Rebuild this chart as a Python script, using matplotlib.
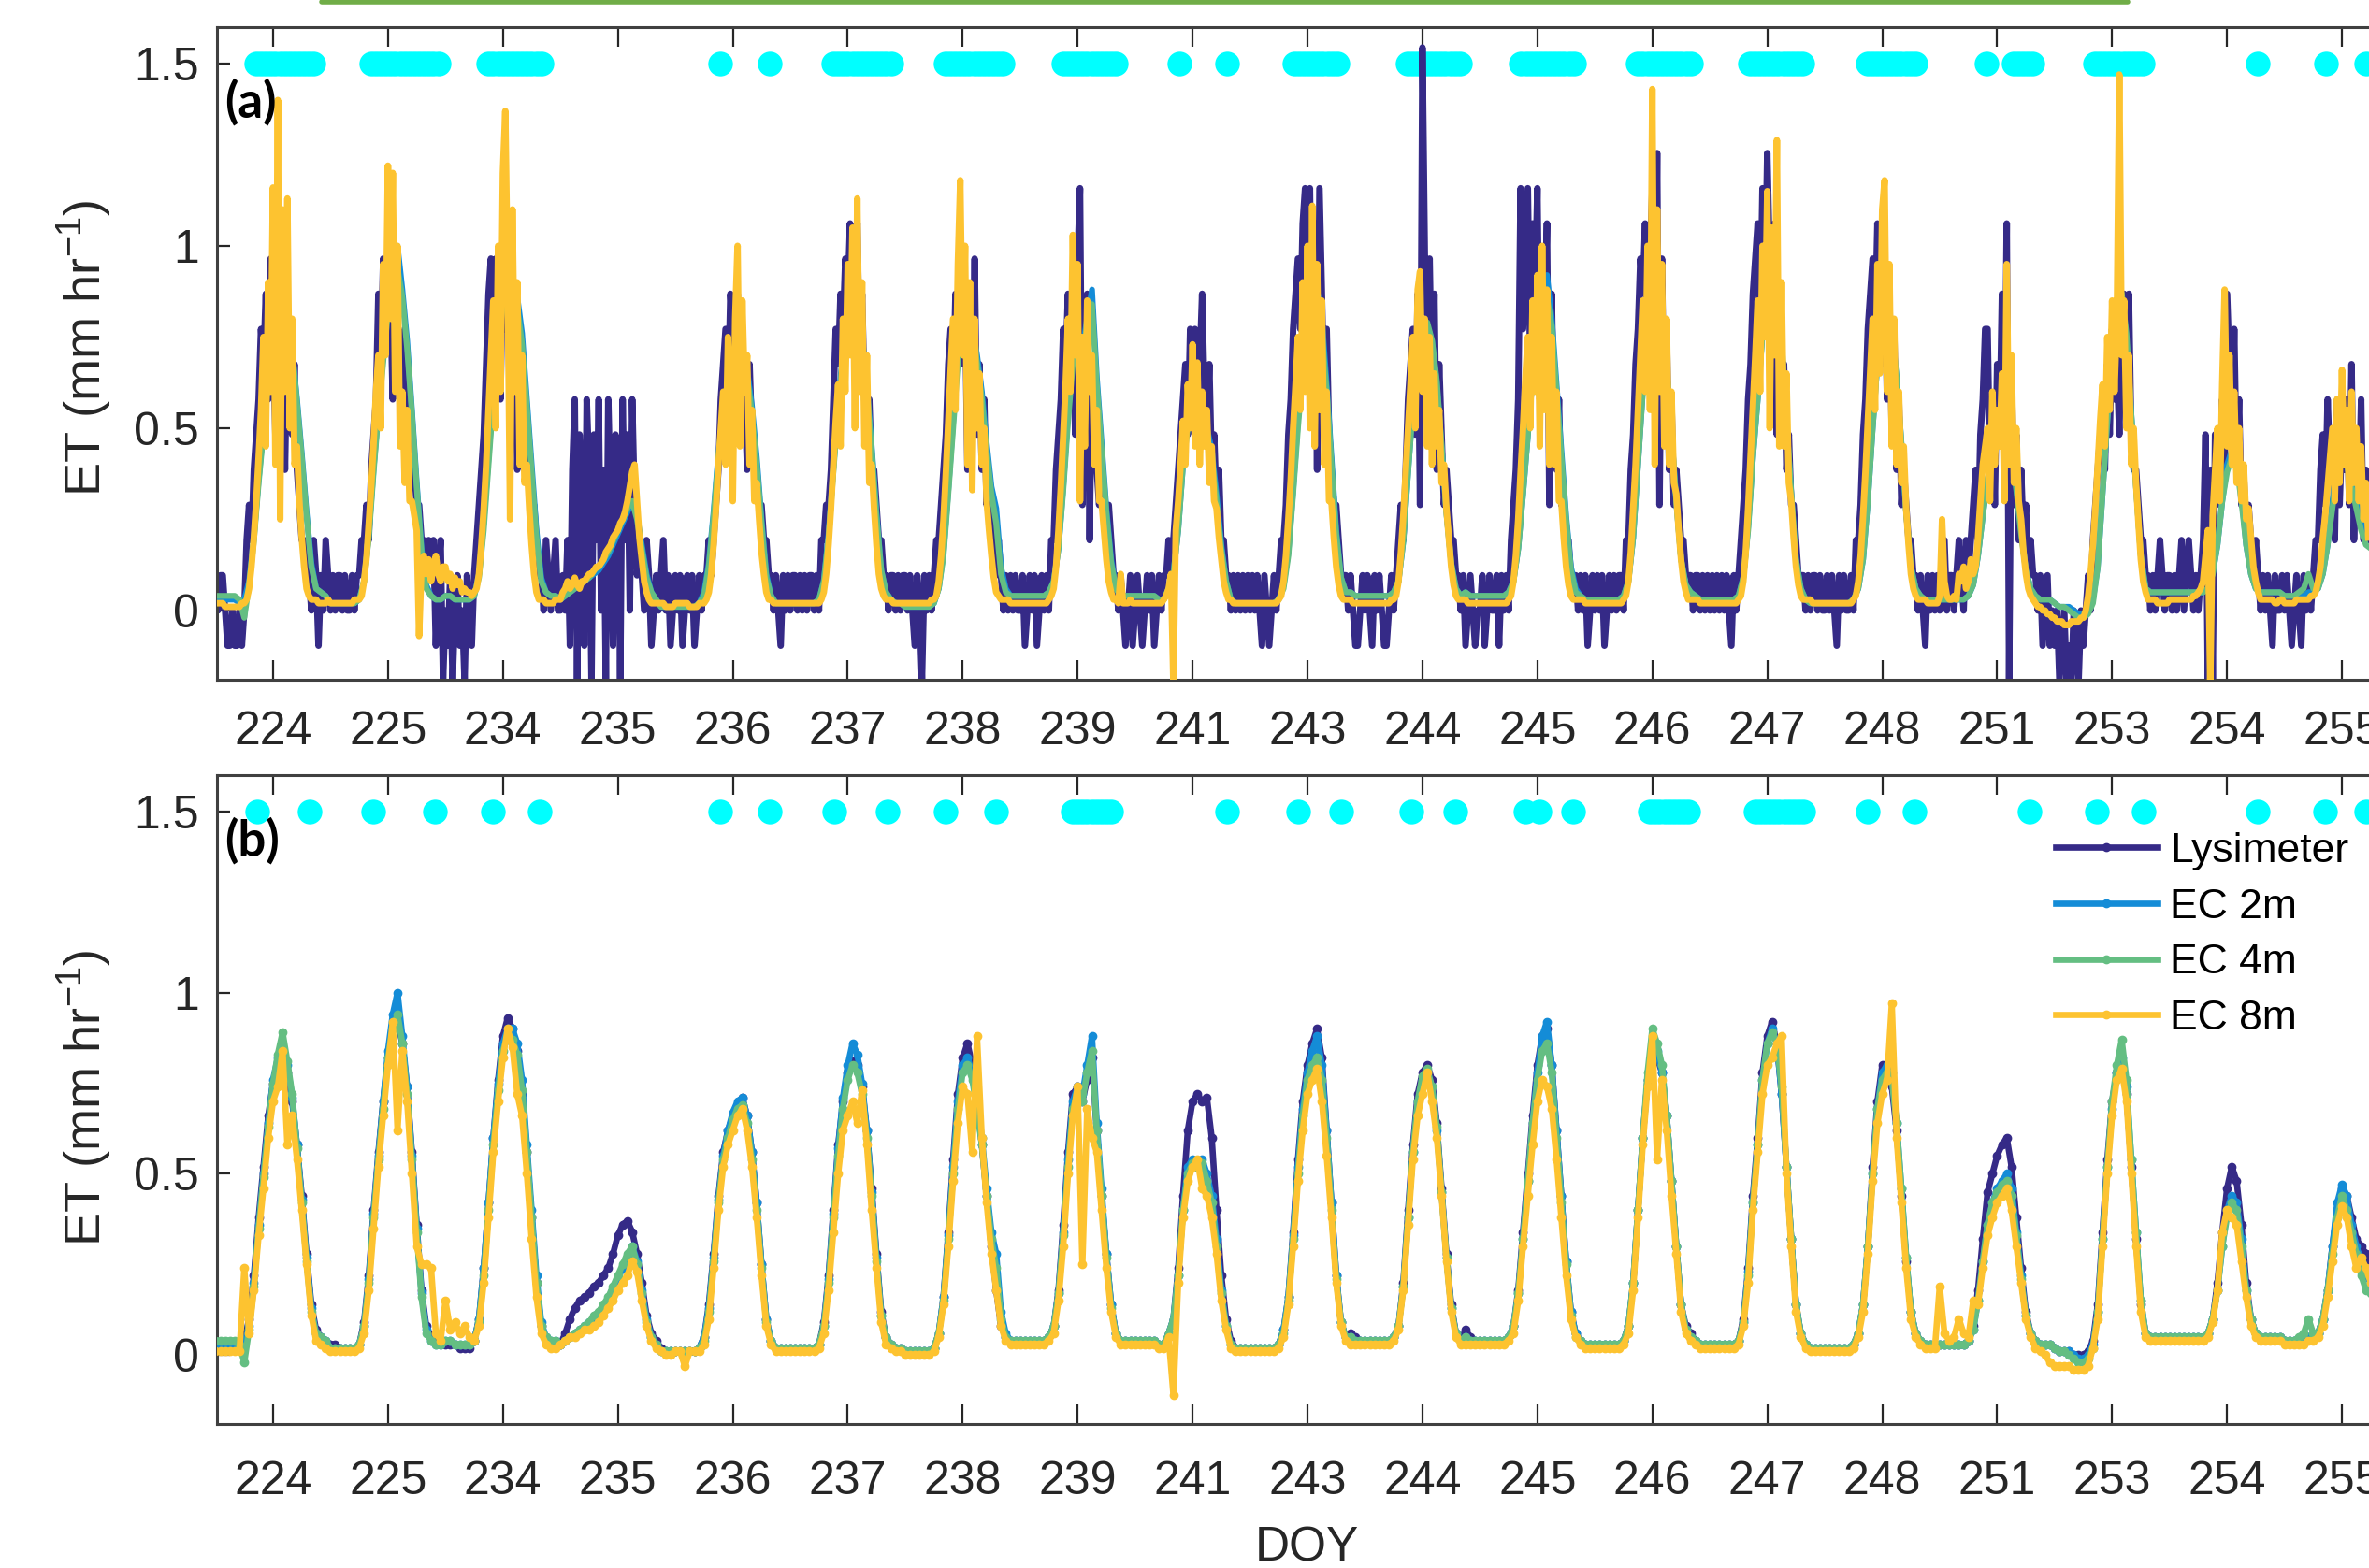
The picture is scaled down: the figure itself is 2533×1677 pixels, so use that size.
import numpy as np
import matplotlib.pyplot as plt
from matplotlib.lines import Line2D

plt.rcParams['font.family'] = ['Liberation Sans', 'DejaVu Sans']
plt.rcParams['mathtext.fontset'] = 'custom'
plt.rcParams['mathtext.rm'] = 'Liberation Sans'

DAYS = [224, 225, 234, 235, 236, 237, 238, 239, 241, 243, 244, 245, 246, 247, 248, 251, 253, 254, 255]

# panel (b): hourly ET in mm/hr x 100, one list per day (hour 0..23)
LYS_B = [
    [2, 2, 2, 2, 2, 2, 4, 10, 22, 38, 52, 66, 75, 80, 82, 78, 70, 58, 44, 28, 14, 7, 5, 4],
    [3, 3, 2, 2, 2, 2, 3, 9, 22, 40, 56, 70, 82, 90, 92, 86, 74, 56, 36, 18, 8, 5, 4, 4],
    [3, 3, 3, 2, 2, 2, 4, 10, 24, 42, 60, 76, 88, 93, 90, 84, 72, 56, 38, 20, 8, 4, 3, 3],
    [3, 6, 10, 13, 15, 16, 17, 19, 20, 22, 24, 28, 33, 36, 37, 34, 28, 20, 11, 6, 4, 2, 1, 1],
    [1, 1, 1, 1, 1, 2, 5, 14, 28, 44, 56, 62, 66, 69, 71, 66, 56, 42, 25, 10, 4, 2, 2, 2],
    [2, 2, 2, 2, 2, 2, 3, 9, 22, 40, 58, 70, 78, 81, 80, 74, 62, 46, 28, 12, 5, 3, 2, 2],
    [1, 1, 1, 1, 1, 1, 2, 6, 16, 34, 54, 72, 82, 86, 80, 70, 58, 44, 30, 18, 8, 5, 4, 4],
    [4, 4, 4, 4, 4, 4, 5, 8, 18, 36, 56, 72, 74, 70, 76, 82, 62, 44, 28, 14, 6, 4, 4, 4],
    [4, 4, 4, 4, 4, 3, 3, 6, 10, 24, 44, 62, 70, 72, 70, 71, 60, 40, 22, 10, 4, 2, 2, 2],
    [2, 2, 2, 2, 2, 2, 3, 7, 16, 34, 54, 70, 80, 86, 90, 82, 62, 42, 22, 9, 5, 6, 5, 4],
    [4, 4, 4, 4, 4, 4, 5, 8, 20, 40, 58, 72, 78, 80, 76, 64, 46, 28, 14, 6, 4, 7, 5, 4],
    [4, 4, 4, 4, 4, 4, 5, 8, 18, 34, 50, 66, 80, 88, 90, 80, 62, 44, 26, 12, 6, 4, 3, 3],
    [3, 3, 3, 3, 3, 3, 4, 8, 20, 40, 60, 76, 84, 82, 78, 66, 48, 30, 14, 8, 6, 4, 3, 3],
    [3, 3, 3, 3, 3, 3, 4, 10, 24, 44, 60, 78, 88, 92, 86, 72, 52, 32, 14, 6, 3, 2, 2, 2],
    [2, 2, 2, 2, 2, 2, 3, 6, 14, 30, 52, 70, 80, 78, 74, 62, 44, 26, 12, 6, 4, 3, 3, 3],
    [3, 3, 3, 3, 3, 3, 4, 8, 18, 32, 45, 50, 55, 58, 60, 52, 38, 24, 12, 6, 4, 3, 3, 3],
    [2, 1, 1, 1, 0, 0, 0, 1, 4, 14, 34, 54, 70, 78, 80, 72, 52, 32, 14, 6, 5, 5, 5, 5],
    [5, 5, 5, 5, 5, 5, 5, 5, 6, 10, 20, 34, 46, 52, 48, 36, 20, 10, 6, 5, 5, 5, 5, 5],
    [4, 4, 4, 4, 4, 5, 5, 6, 10, 18, 30, 40, 46, 44, 38, 32, 30, 28, 25],
]
EC2_B = [
    [3, 3, 3, 3, 3, 2, 3, 8, 20, 36, 50, 64, 76, 82, 85, 80, 71, 58, 43, 27, 13, 6, 5, 4],
    [2, 2, 2, 2, 2, 2, 3, 8, 21, 39, 55, 70, 84, 94, 100, 88, 74, 55, 35, 17, 7, 4, 3, 3],
    [4, 4, 3, 3, 3, 3, 4, 10, 24, 42, 60, 75, 86, 90, 90, 86, 76, 58, 40, 22, 9, 5, 4, 4],
    [3, 4, 5, 6, 7, 8, 9, 10, 11, 13, 15, 18, 21, 24, 27, 30, 26, 18, 10, 5, 3, 1, 1, 1],
    [1, 1, 1, 1, 1, 2, 5, 13, 27, 43, 55, 62, 67, 70, 71, 66, 56, 42, 25, 10, 4, 2, 2, 2],
    [2, 2, 2, 2, 2, 2, 3, 8, 21, 39, 57, 71, 80, 86, 83, 75, 62, 45, 27, 11, 5, 3, 2, 2],
    [1, 1, 1, 1, 1, 1, 2, 6, 16, 33, 52, 70, 80, 82, 78, 70, 60, 46, 34, 28, 12, 6, 4, 4],
    [4, 4, 4, 4, 4, 4, 5, 8, 17, 34, 54, 70, 74, 72, 80, 88, 64, 46, 28, 14, 6, 4, 4, 4],
    [4, 4, 4, 4, 4, 3, 3, 6, 10, 22, 40, 52, 54, 52, 54, 50, 44, 32, 18, 8, 3, 2, 2, 2],
    [2, 2, 2, 2, 2, 2, 3, 7, 16, 33, 52, 68, 78, 84, 88, 80, 62, 42, 22, 9, 5, 5, 4, 4],
    [4, 4, 4, 4, 4, 4, 5, 8, 19, 38, 56, 70, 76, 78, 74, 62, 45, 27, 13, 6, 4, 5, 4, 4],
    [4, 4, 4, 4, 4, 4, 5, 8, 17, 32, 48, 64, 78, 88, 92, 80, 62, 44, 26, 12, 6, 4, 3, 3],
    [3, 3, 3, 3, 3, 3, 4, 8, 20, 40, 60, 76, 86, 84, 78, 66, 48, 30, 14, 7, 5, 4, 3, 3],
    [3, 3, 3, 3, 3, 3, 4, 9, 23, 42, 58, 76, 86, 90, 86, 72, 52, 32, 14, 6, 3, 2, 2, 2],
    [2, 2, 2, 2, 2, 2, 3, 6, 14, 30, 50, 68, 78, 80, 78, 64, 46, 27, 12, 6, 4, 3, 3, 3],
    [3, 3, 3, 3, 3, 3, 4, 7, 15, 26, 36, 42, 46, 48, 50, 46, 34, 22, 11, 6, 4, 3, 3, 3],
    [2, 1, 1, 1, 0, -1, -1, 0, 3, 12, 32, 52, 68, 78, 82, 74, 54, 34, 15, 6, 5, 5, 5, 5],
    [5, 5, 5, 5, 5, 5, 5, 5, 6, 10, 18, 30, 40, 44, 42, 32, 18, 10, 6, 5, 5, 5, 5, 5],
    [4, 4, 4, 4, 4, 5, 5, 6, 10, 18, 30, 42, 47, 44, 36, 30, 26, 22, 20],
]
EC4_B = [
    [4, 4, 4, 4, 4, 3, -2, 7, 19, 35, 49, 63, 75, 83, 89, 81, 72, 57, 42, 26, 12, 6, 5, 4],
    [2, 2, 2, 2, 2, 2, 3, 8, 20, 38, 54, 68, 82, 90, 94, 86, 72, 54, 34, 16, 6, 4, 3, 3],
    [4, 4, 3, 3, 3, 3, 4, 9, 22, 40, 58, 73, 84, 88, 87, 83, 73, 56, 38, 20, 8, 5, 4, 4],
    [3, 4, 5, 6, 7, 8, 9, 11, 12, 14, 16, 19, 22, 25, 28, 30, 25, 17, 9, 5, 3, 1, 1, 1],
    [1, 1, 1, 1, 1, 2, 4, 12, 26, 42, 54, 60, 65, 68, 69, 64, 54, 40, 24, 9, 4, 2, 2, 2],
    [2, 2, 2, 2, 2, 2, 3, 8, 20, 38, 55, 68, 76, 80, 78, 72, 60, 44, 26, 11, 5, 3, 2, 2],
    [1, 1, 1, 1, 1, 1, 2, 6, 15, 32, 50, 68, 78, 80, 76, 68, 58, 44, 32, 24, 10, 5, 4, 4],
    [4, 4, 4, 4, 4, 4, 5, 8, 17, 33, 52, 68, 72, 70, 78, 84, 62, 44, 27, 13, 6, 4, 4, 4],
    [4, 4, 4, 4, 4, 3, 3, 6, 10, 22, 40, 50, 53, 52, 53, 48, 42, 30, 17, 8, 3, 2, 2, 2],
    [2, 2, 2, 2, 2, 2, 3, 6, 15, 32, 50, 66, 76, 80, 82, 76, 60, 40, 21, 9, 5, 5, 4, 4],
    [4, 4, 4, 4, 4, 4, 5, 8, 19, 38, 56, 70, 77, 79, 74, 63, 45, 27, 13, 6, 4, 5, 4, 4],
    [4, 4, 4, 4, 4, 4, 5, 8, 17, 32, 48, 64, 76, 84, 86, 78, 60, 42, 25, 11, 5, 4, 3, 3],
    [3, 3, 3, 3, 3, 3, 4, 8, 20, 40, 60, 78, 90, 86, 80, 66, 48, 30, 14, 7, 5, 4, 3, 3],
    [3, 3, 3, 3, 3, 3, 4, 9, 22, 42, 58, 76, 86, 89, 86, 74, 52, 32, 14, 6, 3, 2, 2, 2],
    [2, 2, 2, 2, 2, 2, 3, 6, 14, 30, 50, 68, 76, 78, 76, 64, 46, 27, 12, 6, 4, 3, 3, 3],
    [3, 3, 3, 3, 3, 3, 4, 7, 15, 26, 36, 42, 45, 47, 48, 44, 33, 21, 11, 6, 4, 3, 3, 3],
    [2, 1, 1, 0, -1, -2, -2, -1, 2, 12, 32, 52, 70, 80, 87, 76, 54, 34, 15, 6, 5, 5, 5, 5],
    [5, 5, 5, 5, 5, 5, 5, 5, 6, 10, 18, 30, 38, 42, 40, 30, 18, 10, 6, 5, 5, 5, 5, 5],
    [4, 4, 4, 5, 6, 10, 6, 6, 10, 18, 28, 38, 44, 40, 34, 28, 22, 18, 17],
]
EC8_B = [
    [1, 1, 1, 1, 1, 1, 24, 6, 18, 33, 46, 60, 70, 74, 84, 58, 66, 54, 40, 25, 11, 4, 3, 2],
    [1, 1, 1, 1, 1, 1, 2, 6, 18, 35, 52, 66, 80, 92, 62, 84, 70, 50, 30, 25, 25, 24, 6, 4],
    [15, 7, 9, 6, 8, 5, 4, 8, 20, 38, 56, 70, 82, 90, 85, 72, 66, 50, 32, 16, 6, 3, 2, 2],
    [3, 4, 5, 5, 6, 7, 7, 8, 9, 11, 13, 15, 18, 20, 22, 26, 23, 15, 8, 4, 2, 1, 0, 0],
    [1, 1, -3, 1, 1, 1, 3, 10, 24, 40, 52, 58, 62, 66, 68, 62, 52, 38, 22, 8, 3, 1, 1, 1],
    [1, 1, 1, 1, 1, 1, 2, 6, 18, 34, 50, 62, 66, 70, 64, 73, 58, 40, 24, 9, 3, 2, 1, 1],
    [0, 0, 0, 0, 0, 0, 1, 5, 14, 30, 48, 64, 74, 72, 56, 88, 60, 42, 28, 18, 8, 4, 3, 3],
    [3, 3, 3, 3, 3, 3, 4, 6, 15, 30, 50, 66, 74, 25, 68, 60, 56, 40, 24, 12, 5, 3, 3, 3],
    [3, 3, 3, 3, 3, 2, 2, 5, -11, 20, 38, 48, 52, 54, 46, 44, 38, 28, 15, 7, 2, 1, 1, 1],
    [1, 1, 1, 1, 1, 1, 2, 5, 14, 30, 48, 62, 72, 76, 79, 70, 55, 38, 20, 8, 4, 3, 3, 3],
    [3, 3, 3, 3, 3, 3, 4, 7, 18, 36, 54, 66, 72, 78, 70, 60, 44, 26, 12, 5, 3, 3, 3, 3],
    [3, 3, 3, 3, 3, 3, 4, 6, 15, 30, 44, 58, 70, 76, 74, 68, 54, 38, 22, 10, 5, 3, 2, 2],
    [2, 2, 2, 2, 2, 2, 3, 6, 18, 38, 58, 74, 88, 54, 76, 62, 44, 28, 12, 6, 4, 3, 2, 2],
    [2, 2, 2, 2, 2, 2, 3, 8, 20, 40, 56, 72, 80, 82, 86, 88, 50, 30, 12, 5, 2, 1, 1, 1],
    [1, 1, 1, 1, 1, 1, 2, 5, 12, 28, 48, 64, 72, 76, 97, 60, 42, 24, 10, 5, 3, 2, 2, 2],
    [19, 6, 4, 5, 10, 6, 5, 15, 14, 24, 33, 38, 42, 44, 46, 40, 30, 20, 10, 5, 2, 1, 0, -2],
    [-3, -3, -3, -3, -4, -4, -4, -3, 2, 10, 30, 50, 66, 76, 79, 70, 50, 30, 12, 5, 4, 4, 4, 4],
    [4, 4, 4, 4, 4, 4, 4, 4, 5, 9, 18, 34, 40, 38, 36, 26, 16, 8, 5, 4, 4, 4, 4, 4],
    [3, 3, 3, 3, 3, 4, 4, 5, 8, 16, 26, 36, 41, 38, 30, 24, 27, 24, 20],
]

# panel (a): half-hourly; lysimeter in weighing steps, EC 8m in mm/hr x 100
LYS_STEP = 0.0965
LYS_A_STEPS = [
    [1, 0, 1, 1, 0, -1, -1, 0, -1, -1, 0, -1, 0, 2, 3, 2, 4, 5, 6, 8, 7, 9, 6, 10, 8, 5, 9, 10, 7, 4, 8, 6, 5, 7, 4, 3, 2, 2, 1, 1, 0, 2, 1, -1, 1, 0, 2, 1],
    [0, 1, 0, 1, 1, 0, 1, 0, 0, 1, 0, 1, 1, 2, 2, 3, 2, 4, 5, 6, 9, 7, 10, 8, 10, 9, 6, 10, 8, 7, 5, 8, 6, 5, 5, 4, 3, 3, 2, 2, 1, 2, 1, 2, -1, 1, 2, -2],
    [0, -1, 1, -2, 0, 1, -1, 0, -2, 1, 0, -1, 1, 2, 3, 4, 5, 7, 9, 10, 8, 10, 9, 6, 10, 8, 10, 5, 9, 7, 4, 6, 5, 4, 5, 4, 3, 3, 2, 1, 1, 0, 2, 1, 0, 1, 2, 0],
    [0, 1, 0, 2, -1, 4, 6, -2, 5, 3, -1, 6, 4, -2, 5, 2, 6, 0, 4, -2, 6, 3, -1, 5, 4, -2, 6, 2, 5, 0, 6, 3, 1, 2, 1, 0, 2, 1, -1, 0, 1, 0, 1, 2, 0, 1, -1, 0],
    [1, 0, 1, -1, 0, 1, 0, 1, -1, 0, 1, 0, 1, 1, 2, 1, 2, 3, 4, 6, 7, 8, 6, 9, 8, 5, 9, 7, 8, 6, 4, 7, 5, 4, 4, 3, 3, 2, 2, 1, 1, 0, 1, 0, -1, 1, 0, 1],
    [0, 1, 1, 0, 1, 0, 1, 0, 1, 1, 0, 1, 0, 2, 2, 3, 3, 4, 6, 8, 7, 9, 8, 10, 9, 11, 8, 10, 11, 7, 9, 6, 5, 6, 4, 4, 3, 2, 2, 1, 1, 0, 1, 1, 0, 1, 0, 1],
    [1, 0, 1, 0, -1, 1, 0, -2, 1, 0, 1, 0, 1, 2, 2, 3, 4, 5, 7, 8, 6, 9, 8, 10, 7, 9, 4, 8, 6, 10, 5, 7, 4, 6, 3, 4, 2, 3, 1, 2, 1, 0, 1, 0, 1, 0, 1, 0],
    [0, 1, -1, 0, 1, 0, 1, -1, 0, 1, 0, 1, 0, 2, 2, 4, 5, 6, 8, 7, 9, 6, 8, 5, 10, 12, 3, 8, 9, 2, 7, 5, 4, 3, 4, 3, 2, 3, 2, 1, 1, 0, 1, 0, -1, 0, 1, -1],
    [0, 1, 0, -1, 0, 1, 0, 1, -1, 0, 1, 0, 1, 1, 2, 1, 2, 3, 4, 5, 6, 7, 5, 8, 7, 8, 6, 7, 9, 6, 5, 7, 4, 5, 3, 4, 2, 2, 1, 1, 0, 1, 0, 1, 0, 1, 0, 1],
    [0, 1, 0, 1, 0, -1, 1, 0, -1, 0, 1, 0, 1, 2, 2, 3, 5, 6, 8, 9, 10, 8, 11, 12, 9, 12, 6, 11, 4, 12, 9, 6, 8, 5, 4, 3, 3, 2, 1, 1, 1, 0, 1, 0, -1, -1, 0, 1],
    [0, 1, 0, -1, 1, 0, 1, 0, -1, -1, 0, 1, 0, 1, 2, 3, 2, 4, 6, 7, 8, 5, 9, 3, 16, 10, 8, 10, 6, 9, 4, 7, 5, 3, 4, 3, 2, 2, 1, 1, 0, 1, -1, 0, 1, 0, -1, 0],
    [0, 1, -1, 0, 1, 0, 0, 1, -1, 1, 0, 1, 0, 2, 3, 4, 6, 12, 8, 10, 12, 7, 11, 9, 12, 6, 10, 8, 11, 3, 9, 5, 4, 6, 3, 3, 2, 2, 1, 1, 1, 0, 1, 0, 1, -1, 0, 1],
    [0, 1, 0, 1, -1, 0, 1, 0, 1, 0, 1, 1, 0, 2, 2, 4, 5, 7, 8, 10, 9, 11, 8, 10, 12, 7, 13, 3, 10, 5, 8, 4, 6, 3, 4, 3, 2, 2, 1, 1, 1, 0, 1, 1, 0, 1, 0, 1],
    [0, 1, 0, 1, 0, 1, 0, 1, 0, -1, 1, 0, 1, 2, 3, 4, 6, 7, 9, 10, 11, 8, 12, 9, 13, 10, 8, 11, 5, 9, 6, 7, 4, 5, 3, 3, 2, 1, 1, 1, 0, 1, 0, 1, 1, 0, 1, 0],
    [0, 1, 0, 1, 0, -1, 1, 0, 1, 0, 0, 1, 0, 2, 2, 3, 5, 6, 8, 9, 10, 8, 11, 9, 7, 10, 6, 9, 5, 8, 4, 6, 3, 4, 3, 2, 2, 1, 1, 0, 1, 0, -1, 1, 0, 1, 0, 1],
    [0, 1, 2, 0, 1, 1, 0, 1, 2, 1, 0, 2, 1, 2, 3, 4, 2, 5, 6, 8, 8, 4, 6, 3, 7, 5, 9, 4, 11, -2, 7, 3, 5, 2, 4, 2, 3, 1, 2, 1, 1, 0, 1, -1, 0, 1, -1, 0],
    [-1, 0, -2, -1, 0, -2, -1, -2, 0, -1, -2, 0, -1, 0, 1, 0, 2, 3, 4, 5, 6, 4, 7, 5, 8, 6, 7, 5, 8, 9, 6, 9, 5, 4, 4, 3, 2, 2, 1, 1, 0, 1, 0, 1, 2, 1, 0, 1],
    [1, 0, 1, 0, 1, 2, 0, 1, 2, 1, 0, 1, 0, 1, 2, 5, -2, 4, -2, 5, 5, 3, 6, 4, 9, 7, 5, 8, 4, 6, 3, 4, 2, 3, 2, 1, 2, 1, 0, 1, 0, 1, 0, -1, 1, 0, 0, 1],
    [0, 1, 0, -1, 0, 1, 0, -1, 1, 0, 1, 0, 1, 2, 2, 4, 5, 3, 6, 4, 5, 2, 6, 3, 5, 4, 6, 3, 7, 2, 5, 3, 6, 2, 4, 2],
]
EC8_A = [
    [2, 2, 2, 2, 1, 1, 1, 1, 1, 1, 1, 2, 2, 3, 6, 12, 20, 30, 42, 55, 75, 45, 90, 60, 116, 40, 140, 25, 110, 60, 113, 50, 80, 40, 45, 30, 20, 12, 6, 4, 3, 3, 3, 2, 2, 2, 2, 3],
    [2, 2, 2, 2, 2, 2, 2, 2, 2, 2, 3, 3, 3, 4, 8, 14, 24, 34, 46, 60, 70, 50, 95, 70, 122, 80, 120, 60, 100, 45, 60, 35, 55, 30, 30, 26, 22, -7, 12, 15, 10, 14, 8, 12, 15, 10, 8, 12],
    [12, 8, 10, 6, 9, 7, 8, 5, 6, 5, 5, 4, 5, 6, 10, 18, 28, 40, 55, 70, 85, 50, 100, 60, 120, 137, 90, 25, 110, 60, 90, 40, 70, 35, 40, 28, 18, 10, 5, 3, 3, 3, 2, 2, 2, 2, 3, 3],
    [3, 5, 6, 8, 6, 7, 9, 7, 6, 8, 8, 9, 10, 10, 11, 12, 12, 13, 14, 16, 17, 18, 20, 21, 22, 24, 25, 27, 30, 34, 38, 40, 30, 20, 14, 8, 5, 3, 2, 2, 2, 2, 2, 2, 1, 1, 1, 1],
    [2, 2, 2, 2, 2, 2, 1, 1, 1, 1, 2, 2, 2, 3, 5, 10, 18, 28, 40, 50, 60, 40, 75, 55, 30, 80, 100, 45, 85, 60, 70, 40, 55, 30, 35, 25, 16, 10, 5, 3, 3, 2, 2, 2, 2, 2, 2, 2],
    [2, 2, 2, 2, 2, 2, 2, 2, 2, 2, 2, 2, 2, 3, 5, 10, 18, 28, 40, 52, 62, 45, 80, 60, 95, 70, 105, 50, 113, 60, 90, 45, 70, 35, 40, 28, 18, 10, 6, 4, 3, 3, 3, 2, 2, 2, 2, 2],
    [2, 2, 2, 2, 2, 2, 2, 2, 2, 2, 2, 3, 3, 4, 8, 15, 25, 38, 52, 66, 80, 55, 95, 118, 70, 100, 40, 90, 33, 80, 50, 65, 40, 50, 30, 22, 15, 9, 5, 4, 3, 3, 3, 3, 2, 2, 2, 2],
    [2, 2, 2, 2, 2, 2, 2, 2, 2, 2, 2, 2, 3, 4, 6, 12, 22, 34, 48, 62, 80, 60, 103, 70, 95, 30, 75, 45, 85, 60, 70, 40, 55, 30, 30, 22, 14, 8, 5, 3, 3, 2, 10, 2, 2, 2, 3, 2],
    [2, 2, 2, 2, 2, 2, 2, 2, 2, 2, 2, 2, 3, 4, 6, 10, -20, 22, 30, 40, 52, 40, 62, 50, 73, 45, 68, 40, 60, 45, 55, 35, 45, 30, 28, 20, 14, 8, 5, 3, 3, 2, 2, 2, 2, 2, 2, 2],
    [2, 2, 2, 2, 2, 2, 2, 2, 2, 2, 2, 2, 3, 4, 8, 15, 25, 36, 50, 62, 75, 55, 90, 60, 100, 50, 111, 45, 95, 55, 85, 40, 60, 30, 30, 20, 12, 7, 4, 3, 3, 3, 3, 2, 2, 2, 2, 2],
    [2, 2, 2, 2, 2, 2, 2, 2, 2, 2, 2, 3, 3, 4, 8, 16, 26, 38, 50, 62, 75, 50, 88, 93, 60, 80, 45, 75, 40, 65, 45, 55, 35, 40, 28, 20, 12, 7, 4, 3, 3, 3, 3, 2, 2, 2, 2, 2],
    [2, 2, 2, 2, 2, 2, 2, 2, 2, 2, 2, 2, 3, 4, 8, 15, 25, 38, 50, 64, 75, 50, 85, 60, 92, 45, 100, 55, 88, 40, 75, 40, 60, 30, 30, 20, 12, 7, 4, 3, 3, 3, 3, 3, 2, 2, 2, 2],
    [2, 2, 2, 2, 2, 2, 2, 2, 2, 2, 2, 2, 3, 4, 8, 16, 28, 40, 55, 70, 85, 60, 100, 55, 143, 40, 110, 60, 95, 45, 80, 40, 60, 35, 32, 22, 14, 8, 5, 3, 3, 3, 3, 3, 2, 2, 2, 2],
    [2, 2, 2, 2, 2, 2, 2, 2, 2, 2, 2, 2, 3, 4, 8, 16, 28, 42, 56, 70, 85, 60, 100, 75, 115, 50, 105, 70, 129, 45, 90, 45, 65, 35, 30, 20, 12, 7, 4, 3, 3, 3, 3, 2, 2, 2, 2, 2],
    [2, 2, 2, 2, 2, 2, 2, 2, 2, 2, 2, 2, 3, 4, 8, 15, 26, 38, 52, 66, 80, 55, 95, 65, 110, 118, 60, 95, 45, 80, 40, 60, 35, 45, 28, 18, 10, 6, 4, 3, 3, 3, 3, 2, 2, 2, 2, 2],
    [4, 25, 8, 4, 3, 3, 4, 3, 10, 8, 12, 6, 8, 14, 10, 12, 20, 30, 40, 45, 50, 30, 60, 40, 55, 45, 65, 30, 95, 40, 70, 35, 50, 30, 25, 16, 10, 6, 4, 3, 2, 1, 1, 0, 0, -1, -1, -2],
    [-2, -3, -3, -3, -4, -4, -4, -3, -3, -3, -3, -2, -2, 0, 4, 10, 18, 28, 40, 52, 62, 45, 75, 55, 85, 60, 80, 147, 70, 85, 50, 70, 40, 50, 35, 24, 14, 8, 5, 3, 3, 3, 3, 2, 2, 2, 2, 2],
    [3, 3, 3, 3, 3, 3, 3, 3, 3, 3, 4, 4, 5, 6, 8, 15, 22, -20, 26, 38, 50, 30, 62, 88, 45, 70, 40, 60, 35, 50, 30, 40, 25, 28, 20, 12, 8, 5, 3, 3, 3, 3, 3, 3, 2, 2, 3, 3],
    [2, 2, 2, 2, 2, 3, 3, 3, 3, 3, 3, 4, 4, 5, 8, 12, 20, 26, 34, 42, 50, 30, 58, 35, 66, 40, 55, 30, 60, 35, 50, 30, 45, 25, 35, 20],
]

# flagged periods (hours from start, start/end) drawn as cyan dots at 1.5
FLAGS_A = [(8.5, 20.5), (32.5, 47), (57, 68.5), (105.3, 105.3), (115.8, 115.8), (129, 141),
           (152.4, 164.7), (177, 188.5), (201.2, 201.2), (211.2, 211.2), (225.2, 235.1),
           (248.8, 259.8), (272.6, 283.7), (297, 308.2), (320.3, 332.1), (344.9, 355.1),
           (369.7, 369.7), (375.4, 379.7), (392.4, 403), (426.5, 426.5), (440.6, 440.6), (449, 449)]
FLAGS_B = [(8.6, 8.6), (19.6, 19.6), (32.9, 32.9), (45.8, 45.8), (57.9, 57.9), (67.6, 67.6),
           (105.3, 105.3), (115.7, 115.7), (129.1, 129.1), (140.3, 140.3), (152.5, 152.5),
           (162.9, 162.9), (179, 187.5), (211.3, 211.3), (226, 226), (235.1, 235.1),
           (249.6, 249.6), (258.9, 258.9), (273.5, 273.5), (276.5, 276.5), (283.4, 283.4),
           (299.5, 307.5), (321.5, 331.5), (345, 345), (354.7, 354.7), (378.8, 378.8),
           (392.9, 392.9), (402.6, 402.6), (426.4, 426.4), (440.5, 440.5), (449, 449)]

SERIES = ['Lysimeter', 'EC 2m', 'EC 4m', 'EC 8m']
COLORS = ['#352A87', '#148CD7', '#64BE82', '#FDC330']


def timeline(per_day, step_h, scale):
    xs, ys = [], []
    for i, vals in enumerate(per_day):
        xs.extend(24 * i + step_h * np.arange(len(vals)))
        ys.extend(vals)
    return np.array(xs), np.array(ys, dtype=float) * scale


def flag_times(runs):
    t = [np.arange(s, e + 0.01, 1.0) for s, e in runs]
    return np.concatenate(t)


W, H = 2533, 1677
fig = plt.figure(figsize=(W / 100, H / 100), dpi=100)

left = 232 / W
x_lo, x_hi = 0.3, 475
px_per_h = 122.9 / 24
width = (x_hi - x_lo) * px_per_h / W
ax_a = fig.add_axes([left, 1 - 727 / H, width, (727 - 29) / H])
ax_b = fig.add_axes([left, 1 - 1523 / H, width, (1523 - 829) / H])

# panel (a): raw series
ta = flag_times(FLAGS_A)
ax_a.plot(ta, np.full(len(ta), 1.5), 'o', color='#00FFFF', ms=19, mec='none', zorder=1)
x, y = timeline(LYS_A_STEPS, 0.5, LYS_STEP)
ax_a.plot(x, y, color=COLORS[0], lw=5, zorder=2)
x, y = timeline(EC2_B, 1.0, 0.01)
ax_a.plot(x, y, color=COLORS[1], lw=4.5, zorder=3)
x, y = timeline(EC4_B, 1.0, 0.01)
ax_a.plot(x, y, color=COLORS[2], lw=4.5, zorder=4)
x, y = timeline(EC8_A, 0.5, 0.01)
ax_a.plot(x, y, color=COLORS[3], lw=5, zorder=5)

# panel (b): hourly series with dots
tb = flag_times(FLAGS_B)
ax_b.plot(tb, np.full(len(tb), 1.5), 'o', color='#00FFFF', ms=19, mec='none', zorder=1)
handles = []
for k, (name, data) in enumerate(zip(SERIES, [LYS_B, EC2_B, EC4_B, EC8_B])):
    x, y = timeline(data, 1.0, 0.01)
    h, = ax_b.plot(x, y, color=COLORS[k], lw=4.8, marker='.', ms=12, label=name, zorder=2 + k)
    handles.append(h)

tick_font = ['Liberation Sans Narrow', 'Liberation Sans', 'DejaVu Sans']
for ax, xpad in ((ax_a, 24), (ax_b, 28)):
    ax.set_xlim(x_lo, x_hi)
    ax.set_ylim(-0.19, 1.6)
    ax.set_xticks([24 * i + 12 for i in range(len(DAYS))])
    ax.set_xticklabels([str(d) for d in DAYS])
    ax.set_yticks([0, 0.5, 1, 1.5])
    ax.set_yticklabels(['0', '0.5', '1', '1.5'])
    ax.tick_params(axis='x', direction='in', length=15, width=1.6, top=True, pad=xpad,
                   labelsize=36, colors='#262626')
    ax.tick_params(axis='y', direction='in', length=10, width=1.6, right=True, pad=14,
                   labelsize=36, colors='#262626')
    for lbl in ax.get_xticklabels() + ax.get_yticklabels():
        lbl.set_fontfamily(tick_font)
    for s in ax.spines.values():
        s.set_linewidth(2.2)
        s.set_color('#404040')
    ax.set_ylabel('ET (mm hr$^{\\mathregular{-1}}$)', fontsize=39, color='#262626')

ax_a.yaxis.set_label_coords(122 / W, 1 - 372 / H, transform=fig.transFigure)
ax_b.yaxis.set_label_coords(122 / W, 1 - 1174 / H, transform=fig.transFigure)
ax_b.set_xlabel('DOY', fontsize=37, color='#262626')
ax_b.xaxis.set_label_coords(1397 / W, 1 - 1632 / H, transform=fig.transFigure)

fig.text(240 / W, 1 - 84 / H, '(a)', fontsize=38, fontweight='bold',
         family=['Lato', 'DejaVu Sans'], va='top', ha='left')
fig.text(240 / W, 1 - 874 / H, '(b)', fontsize=38, fontweight='bold',
         family=['Lato', 'DejaVu Sans'], va='top', ha='left')

fig.legend(handles=handles, loc='upper left', bbox_to_anchor=(2198 / W, 1 - 890 / H),
           frameon=False, fontsize=32, handlelength=2.45, handletextpad=0.3,
           labelspacing=0.42, borderpad=0, borderaxespad=0)

fig.add_artist(Line2D([344 / W, 2275 / W], [1 - 1.5 / H, 1 - 1.5 / H], transform=fig.transFigure,
                      color='#70AD47', lw=4, solid_capstyle='round'))

fig.savefig('out.png', dpi=100)
